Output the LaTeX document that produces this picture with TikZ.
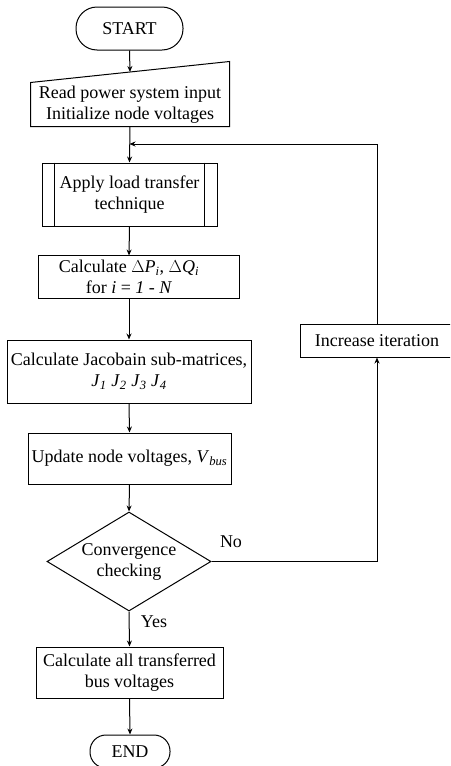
\documentclass[tikz,border=0pt]{standalone}
\usepackage{fontspec}
\setmainfont{Liberation Serif}
\usetikzlibrary{arrows.meta,shapes.geometric,calc}

\tikzset{
    box/.style={draw, rectangle, inner sep=0pt, align=center},
    term/.style={box, rounded corners=16pt},
    arr/.style={-{Stealth[length=6pt,width=5pt]}}
}

\begin{document}
\begin{tikzpicture}[x=1pt, y=-1pt, line width=1pt, font=\fontsize{18}{21}\selectfont]
\useasboundingbox (0,0) rectangle (450,766);
\clip (0,0) rectangle (450,766);

    \node[term, rounded corners=21pt, minimum width=107pt, minimum height=43pt] (start) at (129.5, 28.5) {START};
    \node[rectangle, inner sep=0pt, align=center, minimum width=198pt, minimum height=43pt] (read) at (130, 104.5)
        {Read power system input\\Initialize node voltages};
    \draw (read.south west) -- (read.north west) -- ([yshift=21pt]read.north east) -- (read.south east) -- cycle;
    \coordinate (readtop) at ($(read.north west)!0.5!([yshift=21pt]read.north east)$);

    \node[box, minimum width=175pt, minimum height=63pt] (apply) at (129.5, 194.5) {Apply load transfer\\technique};
    \draw ([xshift=13pt]apply.north west) -- ([xshift=13pt]apply.south west);
    \draw ([xshift=-13pt]apply.north east) -- ([xshift=-13pt]apply.south east);

    \node[rectangle, inner sep=0pt, align=center, minimum width=180pt, minimum height=42pt] (calc) at (129, 277)
        {Calculate $\Delta$\textit{P}\textsubscript{\textit{i}}, $\Delta$\textit{Q}\textsubscript{\textit{i}}\\
         for \textit{i} = \textit{1} - \textit{N}};
    \draw (calc.north west) rectangle ([xshift=20pt]calc.south east);
    \node[box, minimum width=244pt, minimum height=63pt] (jac) at (129, 371.5)
        {Calculate Jacobain sub-matrices,\\
         \textit{J}\textsubscript{\textit{1}} \textit{J}\textsubscript{\textit{2}} \textit{J}\textsubscript{\textit{3}} \textit{J}\textsubscript{\textit{4}}};
    \node[box, minimum width=203pt, minimum height=51pt] (upd) at (129.5, 458.5)
        {Update node voltages, \textit{V}\textsubscript{\textit{bus}}};
    \node[draw, diamond, aspect=1.64, inner sep=0pt, align=center, minimum width=164pt, minimum height=99pt] (chk) at (129, 561.5)
        {Convergence\\checking};
    \node[box, minimum width=154pt, minimum height=33pt] (inc) at (377, 340.5) {Increase iteration};
    \node[box, minimum width=187pt, minimum height=51pt] (allv) at (129.5, 672.5)
        {Calculate all transferred\\bus voltages};
    \node[term, minimum width=80pt, minimum height=33pt] (stop) at (130, 751.5) {END};

    \coordinate (fb) at (129.5, 144);

    \draw[arr] (start.south) -- (readtop);
    \draw[arr] (read.south) -- (apply.north);
    \draw[arr] (apply.south) -- (calc.north);
    \draw[arr] (calc.south) -- (jac.north);
    \draw[arr] (jac.south) -- (upd.north);
    \draw[arr] (upd.south) -- (chk.north);
    \draw[arr] (chk.south) -- node[pos=0.3, right, xshift=8pt] (yes) {Yes} (allv.north);
    \draw[arr] (allv.south) -- (stop.north);
    \draw[arr] (chk.east) -| (inc.south);
    \draw[arr] (inc.north) |- (fb);
    \node (no) at (231, 542) {No};
\end{tikzpicture}
\end{document}
